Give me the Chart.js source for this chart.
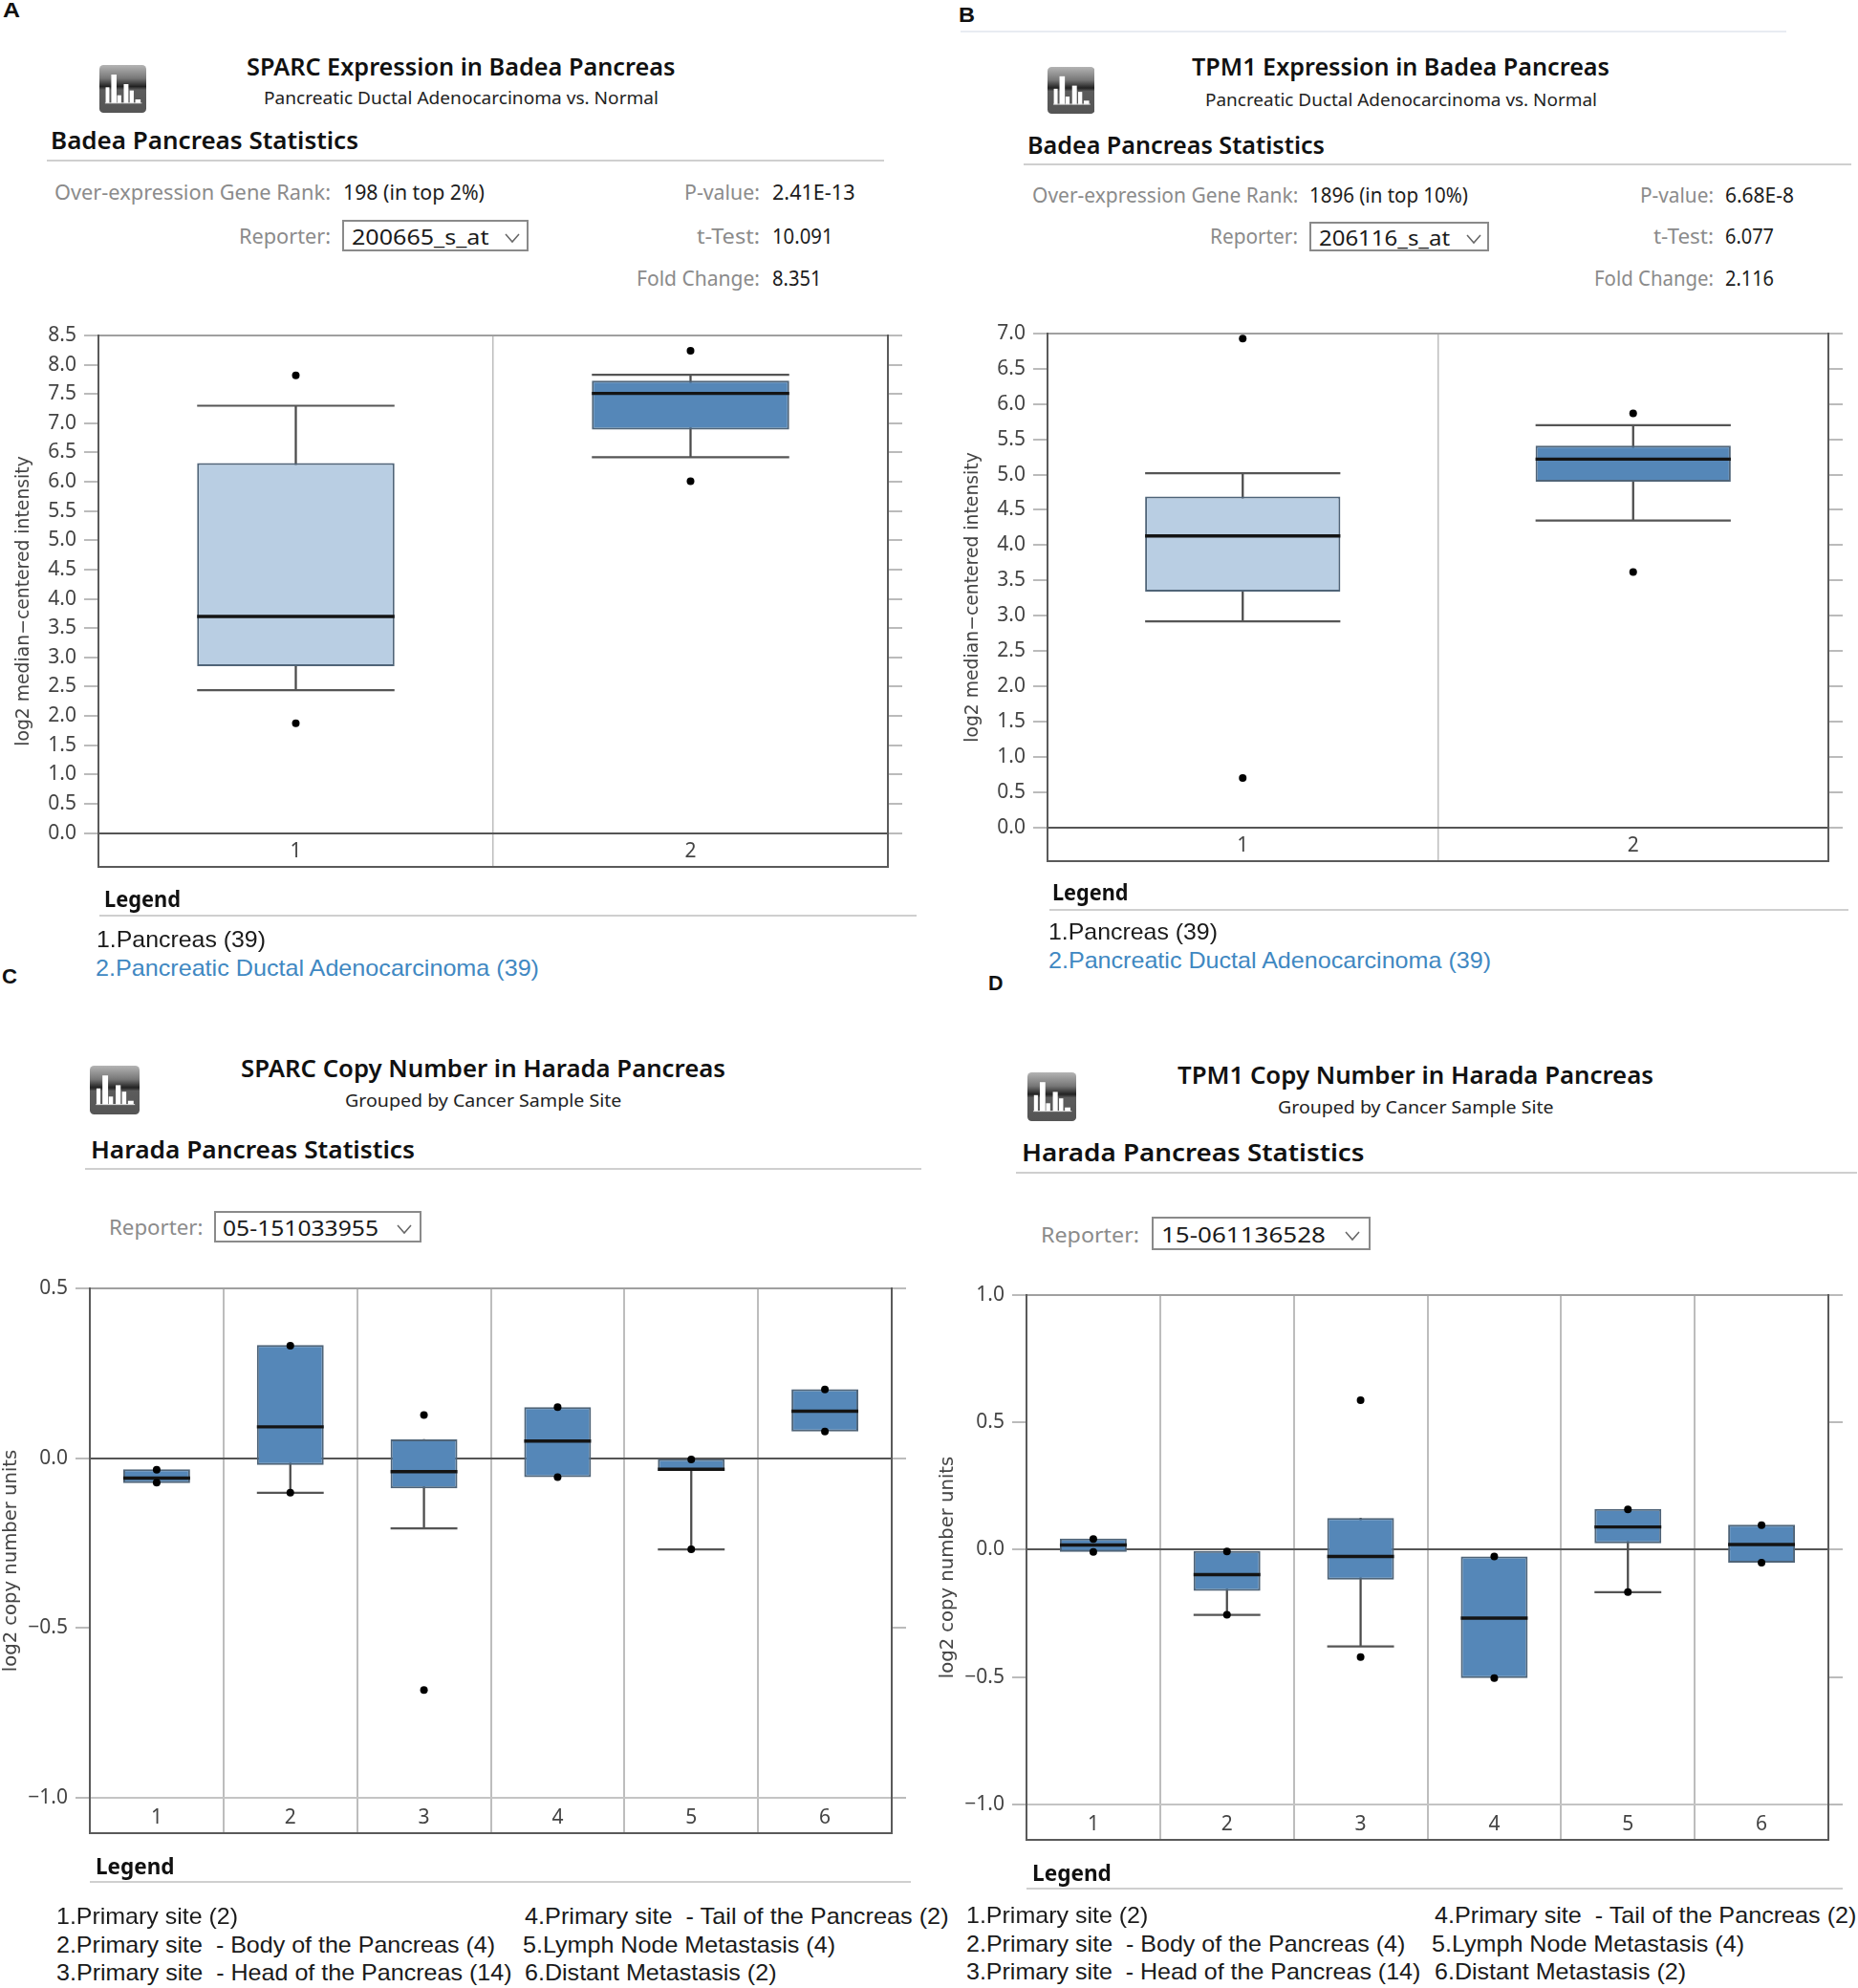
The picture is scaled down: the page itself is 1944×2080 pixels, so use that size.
<!DOCTYPE html>
<html>
<head>
<meta charset="utf-8">
<title>SPARC and TPM1 in Pancreas</title>
<script src="https://cdn.jsdelivr.net/npm/chart.js@4"></script>
<style>
html,body{margin:0;padding:0;background:#fff;}
#page{position:relative;width:1944px;height:2080px;overflow:hidden;background:#fff;}
#page canvas{position:absolute;display:block;}
.t{position:absolute;white-space:pre;line-height:1;transform-origin:0 50%;}
.r{position:absolute;}
</style>
</head>
<body>
<div id="page"></div>
<script>
/* ---------- panel A: SPARC expression, Badea ---------- */
const aCategories = ['1','2'];
const aTicks = [0,0.5,1,1.5,2,2.5,3,3.5,4,4.5,5,5.5,6,6.5,7,7.5,8,8.5];
const aWhiskerLow = [2.44,6.42];
const aQ1 = [2.85,6.89];
const aMedian = [3.70,7.51];
const aQ3 = [6.32,7.73];
const aWhiskerHigh = [7.30,7.83];
const aPointHigh = [7.82,8.24];
const aPointLow = [1.875,6.01];
/* ---------- panel B: TPM1 expression, Badea ---------- */
const bCategories = ['1','2'];
const bTicks = [0,0.5,1,1.5,2,2.5,3,3.5,4,4.5,5,5.5,6,6.5,7];
const bWhiskerLow = [2.92,4.35];
const bQ1 = [3.34,4.90];
const bMedian = [4.13,5.22];
const bQ3 = [4.69,5.41];
const bWhiskerHigh = [5.02,5.70];
const bPointHigh = [6.93,5.87];
const bPointLow = [0.70,3.62];
/* ---------- panel C: SPARC copy number, Harada ---------- */
const cCategories = ['1','2','3','4','5','6'];
const cTicks = [-1,-0.5,0,0.5];
const cWhiskerLow = [null,-0.102,-0.207,null,-0.269,null];
const cQ1 = [-0.074,-0.020,-0.089,-0.056,-0.038,0.078];
const cMedian = [-0.059,0.092,-0.040,0.050,-0.033,0.138];
const cQ3 = [-0.033,0.333,0.055,0.150,0.000,0.203];
const cWhiskerHigh = [null,null,null,null,null,null];
const cPointHigh = [-0.034,0.331,0.127,0.150,-0.004,0.202];
const cPointLow = [-0.072,-0.102,-0.683,-0.056,-0.269,0.078];
/* ---------- panel D: TPM1 copy number, Harada ---------- */
const dCategories = ['1','2','3','4','5','6'];
const dTicks = [-1,-0.5,0,0.5,1];
const dWhiskerLow = [null,-0.256,-0.38,null,-0.167,null];
const dQ1 = [-0.009,-0.162,-0.118,-0.505,0.025,-0.051];
const dMedian = [0.018,-0.098,-0.027,-0.269,0.089,0.02];
const dQ3 = [0.044,-0.005,0.124,-0.027,0.16,0.098];
const dWhiskerHigh = [null,null,null,null,null,null];
const dPointHigh = [0.042,-0.007,0.587,-0.027,0.158,0.096];
const dPointLow = [-0.009,-0.256,-0.422,-0.505,-0.167,-0.051];

/* ---------- helpers ---------- */
const page = document.getElementById('page');
const HEAD = '"Noto Sans", sans-serif';
const ARIAL = '"Liberation Sans", Arial, sans-serif';
function text(str, x0, x1, yc, size, color, weight, family){
  const s = document.createElement('span');
  s.className = 't';
  s.textContent = str;
  s.style.cssText = `left:${x0}px;top:${yc-size/2}px;font:${weight||400} ${size}px ${family||HEAD};line-height:${size}px;color:${color};`;
  page.appendChild(s);
  const w = s.getBoundingClientRect().width;
  s.style.transform = `scaleX(${(x1-x0)/w})`;
}
function rule(x0,x1,y,color,h){
  const d=document.createElement('div');d.className='r';
  d.style.cssText=`left:${x0}px;top:${y-(h||2)/2}px;width:${x1-x0}px;height:${h||2}px;background:${color};`;
  page.appendChild(d);
}
let iconN = 0;
function icon(x0,x1,y0,y1){
  const id='g'+(iconN++);
  const bars=[[20,70],[38,30],[57,95],[78,60],[97,80],[115,108]];
  const wid=[12,17,13,15,13,17];
  let rects=bars.map((b,i)=>`<rect x="${b[0]}" y="${b[1]}" width="${wid[i]}" height="${120-b[1]}" fill="#fff"/>`).join('');
  const d=document.createElement('div');d.className='r';
  d.style.cssText=`left:${x0}px;top:${y0}px;width:${x1-x0}px;height:${y1-y0}px;`;
  d.innerHTML=`<svg width="100%" height="100%" viewBox="0 0 150 150" preserveAspectRatio="none" xmlns="http://www.w3.org/2000/svg"><defs><linearGradient id="${id}" x1="0" y1="0" x2="0" y2="1"><stop offset="0" stop-color="#b4b4b4"/><stop offset=".28" stop-color="#777"/><stop offset=".45" stop-color="#222"/><stop offset=".52" stop-color="#5c5c5c"/><stop offset="1" stop-color="#555"/></linearGradient></defs><rect width="150" height="150" rx="13" fill="url(#${id})"/>${rects}<rect x="18" y="118" width="118" height="3" fill="#ddd"/></svg>`;
  page.appendChild(d);
}
function selectBox(label, x0,x1,y0,y1,tx0,tx1,chev,size){
  const d=document.createElement('div');d.className='r';
  d.style.cssText=`left:${x0}px;top:${y0}px;width:${x1-x0}px;height:${y1-y0}px;box-sizing:border-box;border:2px solid #8a8a8a;background:#fff;`;
  page.appendChild(d);
  text(label,tx0,tx1,(y0+y1)/2,size,'#1a1a1a');
  const c=document.createElement('div');c.className='r';
  const yc=(y0+y1)/2;
  c.style.cssText=`left:${chev-9}px;top:${yc-6}px;width:18px;height:12px;`;
  c.innerHTML='<svg width="18" height="12" xmlns="http://www.w3.org/2000/svg"><polyline points="2,2 9,10 16,2" fill="none" stroke="#666" stroke-width="1.5"/></svg>';
  page.appendChild(c);
}

function panel(p){
  const canvas=document.createElement('canvas');
  const top=p.plotTop-p.padTop, H=p.plotBottom-top+p.padBottom, W=p.canvasW;
  canvas.width=W;canvas.height=H;
  canvas.style.left=p.canvasLeft+'px';canvas.style.top=top+'px';
  page.appendChild(canvas);
  const L=p.plotLeft-p.canvasLeft, R=W-(p.plotRight-p.canvasLeft);
  const n=p.categories.length;
  const cap=(p.plotRight-p.plotLeft)/n/4;
  const pair=(a,b,i)=>[a[i],b[i]];
  const stem=p.categories.map((_,i)=>[p.whiskerLow[i]??p.q1[i], p.whiskerHigh[i]??p.q3[i]]);
  const box=p.categories.map((_,i)=>pair(p.q1,p.q3,i));
  const fmt=v=>v.toFixed(1).replace('-','\u2212');
  const useTicks=ax=>{ax.ticks=p.ticks.map(v=>({value:v}));};
  const markLine=(label,data,color,width,order)=>({type:'line',label,data,showLine:false,order,
    pointStyle:'line',pointRadius:cap,pointHoverRadius:cap,pointBorderColor:color,pointBackgroundColor:color,pointBorderWidth:width,borderColor:color,clip:false});
  const dots=(label,data)=>({type:'line',label,data,showLine:false,order:1,pointStyle:'circle',pointRadius:p.dot,pointHoverRadius:p.dot,
    pointBackgroundColor:'#000',pointBorderColor:'#000',pointBorderWidth:0,borderColor:'#000',clip:false});
  new Chart(canvas,{
    type:'bar',
    data:{labels:p.categories,datasets:[
      {type:'bar',label:'Whisker',data:stem,barThickness:1.6,backgroundColor:'#4a4a4a',borderWidth:0,grouped:false,order:6},
      {type:'bar',label:'Box',data:box,backgroundColor:p.boxColors,borderColor:'#4f6478',borderWidth:2,borderSkipped:false,
        barPercentage:0.5,categoryPercentage:1,grouped:false,order:5},
      markLine('Whisker low',p.whiskerLow,'#555',2.2,4),
      markLine('Whisker high',p.whiskerHigh,'#555',2.2,4),
      markLine('Median',p.median,'#141414',3.4,3),
      dots('High point',p.pointHigh),
      dots('Low point',p.pointLow)
    ]},
    options:{
      responsive:false,animation:false,
      layout:{autoPadding:false,padding:{top:p.padTop,bottom:p.padBottom,left:0,right:0}},
      plugins:{legend:{display:false},title:{display:false},tooltip:{enabled:false}},
      scales:{
        x:{type:'category',offset:true,
          grid:{offset:true,color:'#bdbdbd',lineWidth:p.vLine,drawTicks:false},
          border:{display:true,color:'#5a5a5a',width:2},
          ticks:{color:'#444',font:{family:HEAD,size:21},padding:p.xLabelPad,mirror:true,autoSkip:false,maxRotation:0},
          afterFit:s=>{s.height=0;}
        },
        y:{type:'linear',position:'left',min:p.yMin,max:p.yMax,
          afterBuildTicks:useTicks,
          grid:{tickLength:15,tickColor:'#bbb',lineWidth:2,
            color:c=>c.tick.value===0?'#555':(c.tick.value===p.yMax?'#a0a0a0':(c.tick.value===-1?'#c4c4c4':'rgba(0,0,0,0)'))},
          border:{display:true,color:'#5a5a5a',width:2},
          ticks:{color:'#444',font:{family:HEAD,size:p.tickSize},padding:8,callback:fmt,autoSkip:false,maxRotation:0},
          title:{display:true,text:p.yTitle,color:'#444',font:{family:'"DejaVu Sans"',size:p.titleSize},padding:{top:p.titlePad,bottom:0}},
          afterFit:s=>{s.width=L;}
        },
        yr:{type:'linear',position:'right',min:p.yMin,max:p.yMax,
          afterBuildTicks:useTicks,
          grid:{tickLength:15,tickColor:'#bbb',lineWidth:2,drawOnChartArea:false},
          border:{display:true,color:'#5a5a5a',width:2},
          ticks:{display:false},
          afterFit:s=>{s.width=R;}
        }
      }
    }
  });
}

/* ---------- charts ---------- */
const LIGHT='#b9cee3', DARK='#5587b8';
panel({categories:aCategories,ticks:aTicks,whiskerLow:aWhiskerLow,q1:aQ1,median:aMedian,q3:aQ3,whiskerHigh:aWhiskerHigh,pointHigh:aPointHigh,pointLow:aPointLow,
  boxColors:[LIGHT,DARK],yMin:-0.578,yMax:8.5,yTitle:'log2 median\u2212centered intensity',
  canvasLeft:0,canvasW:960,plotLeft:103,plotRight:929,plotTop:350.5,plotBottom:907,padTop:28,padBottom:28,
  titlePad:13.5,titleSize:18.8,tickSize:21,xLabelPad:3,vLine:1.5,dot:4});
panel({categories:bCategories,ticks:bTicks,whiskerLow:bWhiskerLow,q1:bQ1,median:bMedian,q3:bQ3,whiskerHigh:bWhiskerHigh,pointHigh:bPointHigh,pointLow:bPointLow,
  boxColors:[LIGHT,DARK],yMin:-0.48,yMax:7,yTitle:'log2 median\u2212centered intensity',
  canvasLeft:980,canvasW:964,plotLeft:1096,plotRight:1913,plotTop:348.5,plotBottom:900.5,padTop:28,padBottom:28,
  titlePad:26.8,titleSize:18.8,tickSize:21,xLabelPad:3,vLine:1.5,dot:4});
panel({categories:cCategories,ticks:cTicks,whiskerLow:cWhiskerLow,q1:cQ1,median:cMedian,q3:cQ3,whiskerHigh:cWhiskerHigh,pointHigh:cPointHigh,pointLow:cPointLow,
  boxColors:Array(6).fill(DARK),yMin:-1.105,yMax:0.5,yTitle:'log2 copy number units',
  canvasLeft:0,canvasW:960,plotLeft:94,plotRight:933,plotTop:1347.5,plotBottom:1918,padTop:28,padBottom:28,
  titlePad:0.4,titleSize:19.6,tickSize:21,xLabelPad:3,vLine:2,dot:4});
panel({categories:dCategories,ticks:dTicks,whiskerLow:dWhiskerLow,q1:dQ1,median:dMedian,q3:dQ3,whiskerHigh:dWhiskerHigh,pointHigh:dPointHigh,pointLow:dPointLow,
  boxColors:Array(6).fill(DARK),yMin:-1.14,yMax:1,yTitle:'log2 copy number units',
  canvasLeft:980,canvasW:964,plotLeft:1074,plotRight:1913,plotTop:1354.5,plotBottom:1925,padTop:28,padBottom:28,
  titlePad:0.4,titleSize:19.6,tickSize:21,xLabelPad:3,vLine:2,dot:4});

/* ---------- surrounding text ---------- */
const BK='#111', GR='#8b8b8b', VAL='#1c1c1c', BLUE='#3f88c2', RULE='#cfcfcf';
// panel letters
text('A',3,21,11,22,BK,700,ARIAL);
text('B',1003,1020,16,22,BK,700,ARIAL);
text('C',2,18,1022,22,BK,700,ARIAL);
text('D',1033.5,1049,1029,22,BK,700,ARIAL);
// A header
icon(104,153,68,118);
text('SPARC Expression in Badea Pancreas',257.5,706,69.5,25,BK,600);
text('Pancreatic Ductal Adenocarcinoma vs. Normal',276,689,102.5,18.5,'#222');
text('Badea Pancreas Statistics',53,375,146,25,BK,600);
rule(49,925,168,RULE);
text('Over-expression Gene Rank:',57,346,201,21,GR);
text('198 (in top 2%)',359,507,201,21,VAL);
text('P-value:',716,795,201,21,GR);
text('2.41E-13',807.5,894,201,21,VAL);
text('Reporter:',250,346,247,21,GR);
selectBox('200665_s_at',358,553,230,263,367.5,511,536,22);
text('t-Test:',729,795,247,21,GR);
text('10.091',807.5,871,247,21,VAL);
text('Fold Change:',666,795,291,21,GR);
text('8.351',807.5,859,291,21,VAL);
text('Legend',109,189,940,24,BK,700);
rule(104,959,957.5,RULE);
text('1.Pancreas (39)',101,278,983,24,'#1a1a1a',400,ARIAL);
text('2.Pancreatic Ductal Adenocarcinoma (39)',100,564,1013,24,BLUE,400,ARIAL);
// B header
rule(1005,1869,33,'#e8ecf2');
icon(1095.5,1145,70,119);
text('TPM1 Expression in Badea Pancreas',1247,1684,69.5,25,BK,600);
text('Pancreatic Ductal Adenocarcinoma vs. Normal',1261,1671,104,18.5,'#222');
text('Badea Pancreas Statistics',1075,1386,151,25,BK,600);
rule(1071,1937,172,RULE);
text('Over-expression Gene Rank:',1079.6,1358,204,21,GR);
text('1896 (in top 10%)',1370,1536,204,21,VAL);
text('P-value:',1716,1793,204,21,GR);
text('6.68E-8',1805,1877,204,21,VAL);
text('Reporter:',1266,1358,247,21,GR);
selectBox('206116_s_at',1370,1558,232,263,1379.5,1516.6,1542,22);
text('t-Test:',1730,1793,247,21,GR);
text('6.077',1805,1856,247,21,VAL);
text('Fold Change:',1668,1793,291,21,GR);
text('2.116',1805,1856,291,21,VAL);
text('Legend',1100.5,1180,932.5,24,BK,700);
rule(1097.5,1934,951.6,RULE);
text('1.Pancreas (39)',1097,1274,975,24,'#1a1a1a',400,ARIAL);
text('2.Pancreatic Ductal Adenocarcinoma (39)',1097,1560,1005,24,BLUE,400,ARIAL);
// C header
icon(94,146,1115,1166);
text('SPARC Copy Number in Harada Pancreas',252,759,1117,25,BK,600);
text('Grouped by Cancer Sample Site',360.6,650,1151,18.5,'#222');
text('Harada Pancreas Statistics',95,434,1202,25,BK,600);
rule(89,964,1223,RULE);
text('Reporter:',114,212.5,1284,21,GR);
selectBox('05-151033955',224,441,1267,1300,233,396,423,22);
text('Legend',100,182.5,1951.5,24,BK,700);
rule(94,953,1969,RULE);
text('1.Primary site (2)',59,249,2005,24,'#1a1a1a',400,ARIAL);
text('2.Primary site  - Body of the Pancreas (4)',59,518,2034.5,24,'#1a1a1a',400,ARIAL);
text('3.Primary site  - Head of the Pancreas (14)',59,535.6,2064,24,'#1a1a1a',400,ARIAL);
text('4.Primary site  - Tail of the Pancreas (2)',549,992.6,2005,24,'#1a1a1a',400,ARIAL);
text('5.Lymph Node Metastasis (4)',547,874,2034.5,24,'#1a1a1a',400,ARIAL);
text('6.Distant Metastasis (2)',549,812.5,2064,24,'#1a1a1a',400,ARIAL);
// D header
icon(1074.6,1125.7,1122,1173);
text('TPM1 Copy Number in Harada Pancreas',1232,1730,1124,25,BK,600);
text('Grouped by Cancer Sample Site',1336.5,1625,1158,18.5,'#222');
text('Harada Pancreas Statistics',1069,1427.5,1205,25,BK,600);
rule(1063,1943,1227,RULE);
text('Reporter:',1089,1192,1292,21,GR);
selectBox('15-061136528',1205,1433.6,1273,1308,1215,1387,1415,22);
text('Legend',1079.6,1162.5,1959,24,BK,700);
rule(1074,1928,1976,RULE);
text('1.Primary site (2)',1010.7,1201,2003.5,24,'#1a1a1a',400,ARIAL);
text('2.Primary site  - Body of the Pancreas (4)',1010.7,1470,2033.5,24,'#1a1a1a',400,ARIAL);
text('3.Primary site  - Head of the Pancreas (14)',1010.7,1486,2063,24,'#1a1a1a',400,ARIAL);
text('4.Primary site  - Tail of the Pancreas (2)',1500.6,1942,2003.5,24,'#1a1a1a',400,ARIAL);
text('5.Lymph Node Metastasis (4)',1498,1825,2033.5,24,'#1a1a1a',400,ARIAL);
text('6.Distant Metastasis (2)',1501,1764,2063,24,'#1a1a1a',400,ARIAL);
</script>
</body>
</html>
